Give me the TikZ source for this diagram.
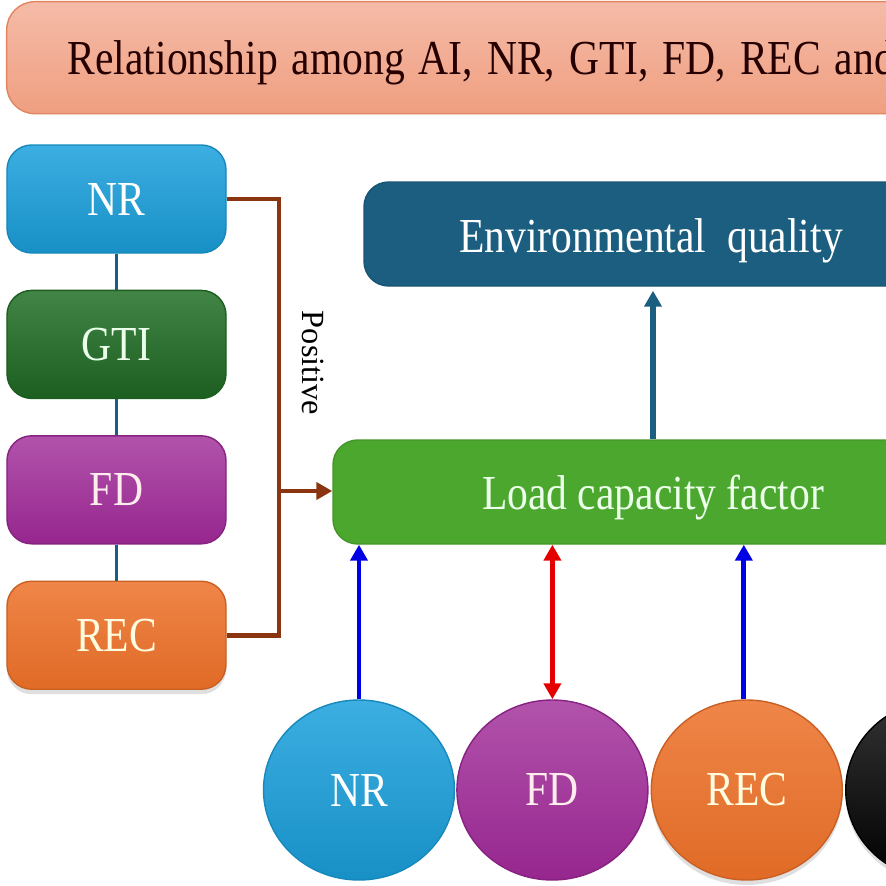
\documentclass[tikz,border=0pt]{standalone}
\usepackage{fontspec}
\setmainfont{Liberation Serif}
\usepackage{tikz}
\usetikzlibrary{ % tikz packages
    positioning,shapes.geometric,
    arrows.meta,shadows
}
\definecolor{nrBlue}{HTML}{1AA0DC}
\definecolor{gtiGreen}{HTML}{206F26}
\definecolor{fdPurple}{HTML}{9E2896}
\definecolor{recOrange}{HTML}{EC7028}
\definecolor{envTeal}{HTML}{1B5E80}
\definecolor{lcfGreen}{HTML}{4CA72E}
\definecolor{posBrown}{HTML}{8B3510}
\definecolor{titleTop}{HTML}{F5BBA8}
\definecolor{titleBottom}{HTML}{EF9F80}
\definecolor{titleEdge}{HTML}{E08660}
\tikzset{every node/.style={
    font=\fontsize{12.2}{14}\selectfont
}}
\tikzset{
    lbox/.style={rectangle,rounded corners=7pt,minimum width=2.19cm,
        minimum height=1.08cm,draw=#1!85!black,line width=0.4pt},
    bigbox/.style={rectangle,rounded corners=7pt,minimum height=1.04cm,
        fill=#1,draw=#1!90!black},
    circ/.style={ellipse,minimum width=1.91cm,minimum height=1.80cm,
        draw=#1!85!black,line width=0.4pt},
    link/.style={envTeal,line width=1.1pt},
    posline/.style={posBrown,line width=1.3pt},
    tip/.style={-{Triangle[length=0.16cm,width=0.17cm]}},
    softshadow/.style={drop shadow={opacity=0.25,shadow xshift=0pt,
        shadow yshift=-0.05cm}}
}
\newcommand{\tallText}[1]{\scalebox{0.97}[1.14]{#1}}
\newcommand{\lowText}[2]{\raisebox{-#1}[\height][\depth]{\tallText{#2}}}

\begin{document}
\begin{tikzpicture}
        \useasboundingbox (0,0) rectangle (8.86,-8.86);
        \clip (0,0) rectangle (8.86,-8.86);

        % title
        \node[rectangle,rounded corners=8pt,anchor=north west,
            minimum width=12cm,minimum height=1.12cm,
            top color=titleTop,bottom color=titleBottom,
            draw=titleEdge,text width=11cm,align=left,inner xsep=0.61cm,
            text=black!85!red] (title) at (0.06,-0.01)
            {\lowText{0.05cm}{Relationship among AI, NR, GTI, FD, REC and}};

        % left column
        \node[lbox=nrBlue,top color=nrBlue!85!white,bottom color=nrBlue!90!black,
            text=white] (nrBox) at (1.165,-1.99) {\tallText{NR}};
        \node[lbox=gtiGreen,top color=gtiGreen!85!white,bottom color=gtiGreen!85!black,
            text=green!8!white] (gtiBox) [below=0.36cm of nrBox] {\tallText{GTI}};
        \node[lbox=fdPurple,top color=fdPurple!80!white,bottom color=fdPurple!95!black,
            text=pink!30!white] (fdBox) [below=0.36cm of gtiBox] {\tallText{FD}};
        \node[lbox=recOrange,top color=recOrange!85!white,bottom color=recOrange!95!black,
            text=yellow!12!white,softshadow] (recBox) [below=0.36cm of fdBox] {\tallText{REC}};

        \draw[link] (nrBox) -- (gtiBox);
        \draw[link] (gtiBox) -- (fdBox);
        \draw[link] (fdBox) -- (recBox);

        % right column
        \node[bigbox=envTeal,minimum width=5.74cm,text=white] (envBox)
            at (6.51,-2.34) {\lowText{0.07cm}{Environmental\ \ quality}};
        \node[bigbox=lcfGreen,minimum width=6.40cm,text=green!8!white] (lcfBox)
            at (6.53,-4.92) {\lowText{0.06cm}{Load\ capacity\ factor}};

        \draw[envTeal,line width=1.7pt,tip] (lcfBox.north) -- ([yshift=-0.04cm]envBox.south -| lcfBox.north);

        % positive effect
        \coordinate (bend) at (2.79,-4.91);
        \draw[posline] (nrBox.east) -- (nrBox.east -| bend) -- (recBox.east -| bend) -- (recBox.east);
        \draw[posline,tip] (bend) -- (lcfBox.west |- bend);
        \node[rotate=-90,font=\fontsize{9.2}{11}\selectfont] (posLabel) at (3.13,-3.63) {Positive};

        % bottom row
        \node[circ=nrBlue,top color=nrBlue!85!white,bottom color=nrBlue!90!black,
            text=white] (nrCirc) at (3.59,-7.90) {\tallText{NR}};
        \node[circ=fdPurple,top color=fdPurple!80!white,bottom color=fdPurple!95!black,
            text=pink!30!white] (fdCirc) [right=0.01cm of nrCirc] {\tallText{FD}};
        \node[circ=recOrange,top color=recOrange!85!white,bottom color=recOrange!95!black,
            text=yellow!12!white,softshadow] (recCirc) [right=0.02cm of fdCirc] {\tallText{REC}};
        \node[circ=black,top color=black!80,bottom color=black,softshadow]
            (blkCirc) [right=0.02cm of recCirc] {};

        \draw[blue!90!black,line width=1.4pt,tip] (nrCirc.north) -- (nrCirc.north |- lcfBox.south);
        \draw[red!90!black,line width=1.4pt,
            {Triangle[length=0.16cm,width=0.17cm]}-{Triangle[length=0.16cm,width=0.17cm]}]
            (fdCirc.north) -- (fdCirc.north |- lcfBox.south);
        \draw[blue!90!black,line width=1.4pt,tip] ([xshift=-0.03cm]recCirc.north)
            -- ([xshift=-0.03cm]recCirc.north |- lcfBox.south);
    \end{tikzpicture}
\end{document}
